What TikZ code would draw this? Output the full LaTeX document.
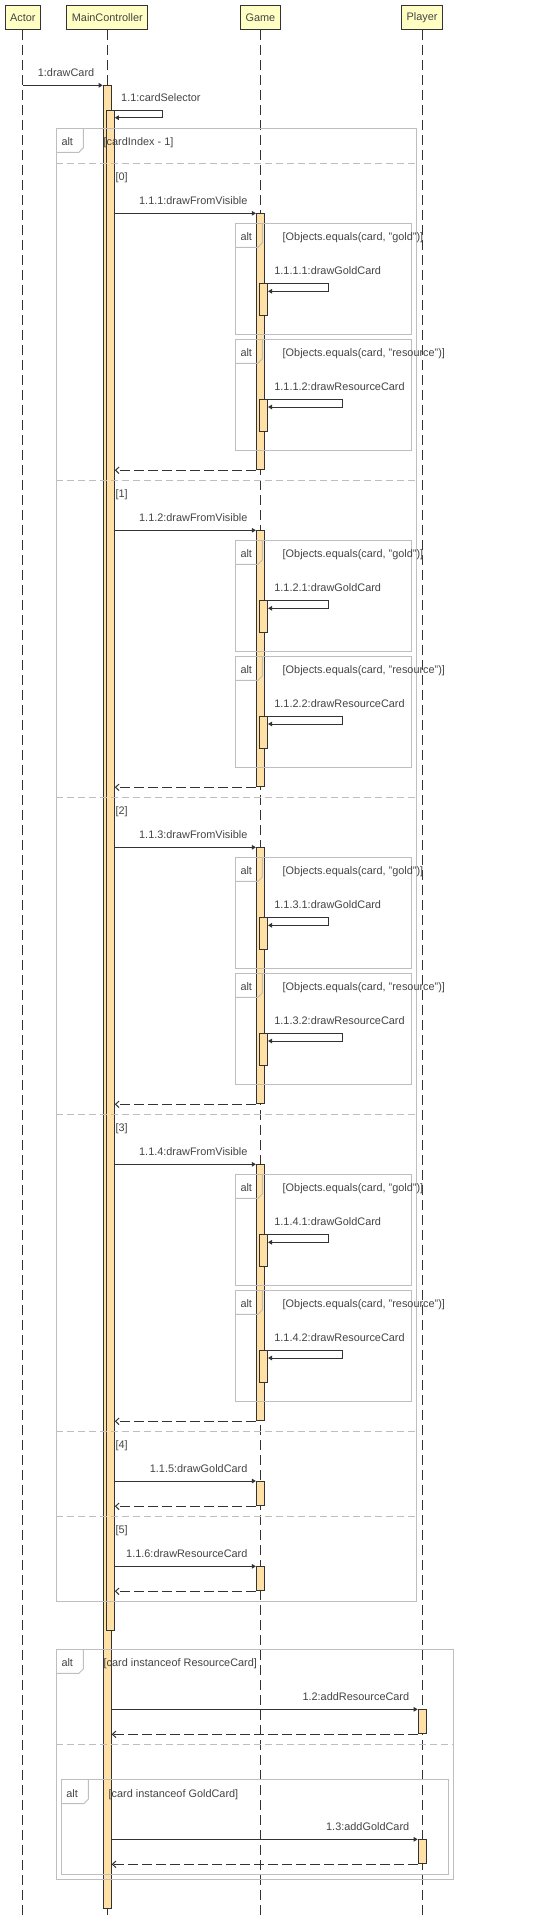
\documentclass[tikz,border=0pt]{standalone}
\usepackage{fontspec}
\setmainfont{Liberation Sans}
\usetikzlibrary{arrows.meta,calc,positioning}
\definecolor{HeadYellow}{HTML}{FFFFC4}
\definecolor{BarOrange}{HTML}{FFE1A8}
\definecolor{FrameGray}{HTML}{BEBEBE}
\definecolor{Ink}{HTML}{333333}
\definecolor{TextInk}{HTML}{444444}

\begin{document}
\begin{tikzpicture}[x=1pt,y=-1pt,line width=1pt,
    every node/.style={font=\fontsize{10.9}{13}\selectfont,text=TextInk},
    head/.style={draw=Ink,fill=HeadYellow,anchor=north,minimum height=24pt,inner xsep=5pt,inner ysep=0pt},
    life/.style={Ink,dash pattern=on 10pt off 5pt},
    bar/.style={draw=Ink,fill=BarOrange,anchor=north,minimum width=8pt,inner sep=0pt},
    frame/.style={draw=FrameGray},
    split/.style={FrameGray,dash pattern=on 7pt off 4pt},
    msg/.style={Ink,-{Triangle[length=4pt,width=4.5pt]}},
    ret/.style={Ink,dash pattern=on 10pt off 4pt,-{Straight Barb[length=3.5pt,width=6.5pt]}},
    lbl/.style={anchor=base east,xshift=-8pt,yshift=8.5pt,inner sep=0pt},
    selflbl/.style={anchor=base west,xshift=9pt,yshift=8.4pt,inner sep=0pt},
    tag/.style={anchor=base west,inner sep=0pt}]
  \useasboundingbox (0,0) rectangle (543,1924);
  \node[head] (actor) at (22.9,5.3) {Actor};
  \node[head] (ctrl) at (107.3,5.3) {MainController};
  \node[head] (game) at (260.4,5.3) {Game};
  \node[head] (player) at (422.1,5.3) {Player};
  \foreach \p in {actor,ctrl,game,player}
    \draw[life] (\p.south) -- (\p.south |- 0,1915);

  \node[bar,minimum height=1823pt] (ctrlA) at (107.2,85.3) {};
  \node[bar,minimum height=1519.7pt] (ctrlB) at (110.3,110.3) {};
  \foreach \k [evaluate=\k as \s using 163.3+317*\k] in {0,...,3}{
    \node[bar,minimum height=256pt] (g\k) at (260.4,\s+50) {};
    \node[bar,minimum height=32pt] (gg\k) at (263.5,\s+120) {};
    \node[bar,minimum height=32pt] (gr\k) at (263.5,\s+236) {};
  }
  \node[bar,minimum height=24.3pt] (g4) at (260.4,1481) {};
  \node[bar,minimum height=24pt] (g5) at (260.4,1566.3) {};
  \node[bar,minimum height=24pt] (p1) at (422.2,1709.3) {};
  \node[bar,minimum height=24pt] (p2) at (422.2,1839.3) {};

  \foreach \xa/\ya/\xb/\yb/\guard/\nm in {56.4/128.3/416.4/1601/{[cardIndex - 1]}/altA,
      56.4/1649.3/453.2/1879/{[card instanceof ResourceCard]}/altB,
      61.3/1779.7/448.4/1874.3/{[card instanceof GoldCard]}/altC}{
    \draw[frame] (\xa,\ya) rectangle (\xb,\yb);
    \draw[frame] (\xa,\ya+24) -- ++(22.5,0) -- ++(4.5,-4.5) -- (\xa+27,\ya);
    \node[tag] (\nm) at (\xa+4.6,\ya+17.4) {alt};
    \node[tag] (\nm g) at (\xa+46.8,\ya+17.4) {\guard};
  }
  \foreach \sy/\t in {163.3/0,480.3/1,797.3/2,1114.3/3,1431.3/4,1516.3/5}{
    \draw[split] (56.4,\sy) -- (416.4,\sy);
    \node[tag] (op\t) at (115,\sy+17.4) {[\t]};
  }
  \draw[split] (56.4,1744.3) -- (453.2,1744.3);

  \draw[msg] (actor.south |- ctrlA.north) -- (ctrlA.north west) node[lbl] (m1) {1:drawCard};
  \draw[msg] (ctrlA.east |- ctrlB.north) node[selflbl] (m11) {1.1:cardSelector}
    -- ++(50.3,0) |- ([yshift=-7.4pt]ctrlB.north east);
  \foreach \k [evaluate=\k as \s using 163.3+317*\k, evaluate=\k as \n using int(\k+1)] in {0,...,3}{
    \foreach \ta/\tb/\what in {60/171/gold,176/286.7/resource}{
      \draw[frame] (235.4,\s+\ta) rectangle (411.3,\s+\tb);
      \draw[frame] (235.4,\s+\ta+24) -- ++(22.5,0) -- ++(4.5,-4.5) -- (262.4,\s+\ta);
      \node[tag] (alt\k\what) at (240,\s+\ta+17.4) {alt};
      \node[tag] (guard\k\what) at (282.2,\s+\ta+17.4) {[Objects.equals(card, "\what")]};
    }
    \draw[msg] (ctrlB.east |- g\k.north) -- (g\k.north west) node[lbl] (vis\k) {1.1.\n:drawFromVisible};
    \draw[msg] (g\k.east |- gg\k.north) node[selflbl] (gold\k) {1.1.\n.1:drawGoldCard}
      -- ++(64,0) |- ([yshift=-8pt]gg\k.north east);
    \draw[msg] (g\k.east |- gr\k.north) node[selflbl] (res\k) {1.1.\n.2:drawResourceCard}
      -- ++(77.4,0) |- ([yshift=-7.7pt]gr\k.north east);
    \draw[ret] (g\k.south west) -- (ctrlB.east |- g\k.south);
  }
  \draw[msg] (ctrlB.east |- g4.north) -- (g4.north west) node[lbl] (m115) {1.1.5:drawGoldCard};
  \draw[ret] (g4.south west) -- (ctrlB.east |- g4.south);
  \draw[msg] (ctrlB.east |- g5.north) -- (g5.north west) node[lbl] (m116) {1.1.6:drawResourceCard};
  \draw[ret] (g5.south west) -- (ctrlB.east |- g5.south);
  \draw[msg] (ctrlA.east |- p1.north) -- (p1.north west) node[lbl] (m12) {1.2:addResourceCard};
  \draw[ret] (p1.south west) -- (ctrlA.east |- p1.south);
  \draw[msg] (ctrlA.east |- p2.north) -- (p2.north west) node[lbl] (m13) {1.3:addGoldCard};
  \draw[ret] (p2.south west) -- (ctrlA.east |- p2.south);
\end{tikzpicture}
\end{document}
